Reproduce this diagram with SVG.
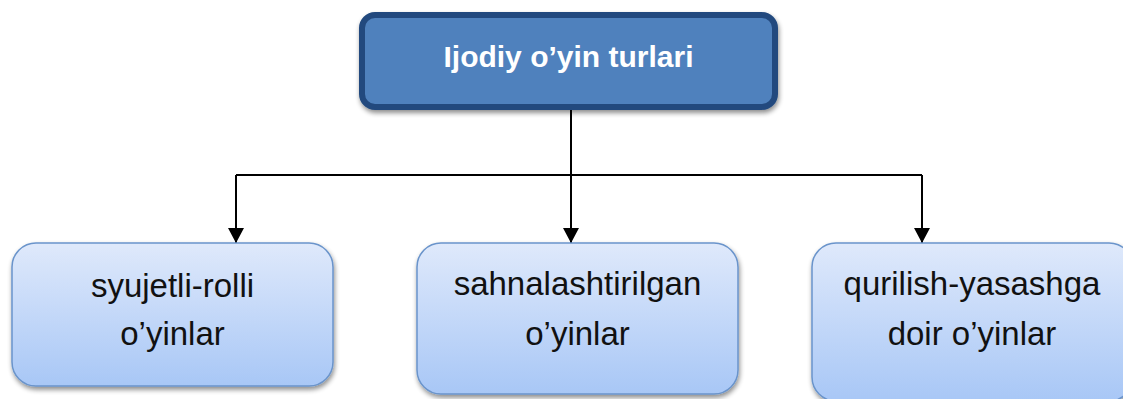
<svg xmlns="http://www.w3.org/2000/svg" width="1123" height="399" viewBox="0 0 1123 399">
<defs>
<linearGradient id="g" x1="0" y1="0" x2="0" y2="1">
<stop offset="0" stop-color="#DFE9FB"/>
<stop offset="1" stop-color="#A8C7F6"/>
</linearGradient>
<filter id="sh" x="-10%" y="-10%" width="120%" height="130%">
<feGaussianBlur in="SourceAlpha" stdDeviation="2.5"/>
<feOffset dx="1" dy="3" result="b"/>
<feComponentTransfer><feFuncA type="linear" slope="0.45"/></feComponentTransfer>
<feMerge><feMergeNode/><feMergeNode in="SourceGraphic"/></feMerge>
</filter>
<marker id="arr" markerWidth="16" markerHeight="16" refX="15" refY="8" orient="auto" markerUnits="userSpaceOnUse">
<path d="M0,0 L15,8 L0,16 Z" fill="#000"/>
</marker>
<style>
.top{fill:#4F81BD;stroke:#234A7E;stroke-width:6}
.box{fill:url(#g);stroke:#6A94CB;stroke-width:1.5}
.tt{font-family:"Liberation Sans",Arial,sans-serif;font-weight:bold;font-size:30px;fill:#fff;text-anchor:middle}
.bt{font-family:"Liberation Sans",Arial,sans-serif;font-size:33px;fill:#111;text-anchor:middle}
.ln{fill:none;stroke:#000;stroke-width:2}
</style>
</defs>
<rect width="1123" height="399" fill="#fff"/>
<g id="connectors">
<line class="ln" x1="571" y1="108" x2="571" y2="175"/>
<line class="ln" x1="236" y1="175" x2="922" y2="175"/>
<line class="ln" x1="236" y1="175" x2="236" y2="243" marker-end="url(#arr)"/>
<line class="ln" x1="571" y1="175" x2="571" y2="243" marker-end="url(#arr)"/>
<line class="ln" x1="922" y1="175" x2="922" y2="243" marker-end="url(#arr)"/>
</g>
<g id="root">
<rect class="top" x="362" y="15" width="413" height="92" rx="13" filter="url(#sh)"/>
<text class="tt" x="568.5" y="67">Ijodiy o’yin turlari</text>
</g>
<g id="n1">
<rect class="box" x="12" y="243" width="321" height="143" rx="24" filter="url(#sh)"/>
<text class="bt" x="172.5" y="297">syujetli-rolli</text>
<text class="bt" x="172.5" y="345">o’yinlar</text>
</g>
<g id="n2">
<rect class="box" x="417" y="243" width="321" height="151" rx="24" filter="url(#sh)"/>
<text class="bt" x="577.5" y="295">sahnalashtirilgan</text>
<text class="bt" x="577.5" y="345">o’yinlar</text>
</g>
<g id="n3">
<rect class="box" x="812" y="243" width="321" height="158" rx="24" filter="url(#sh)"/>
<text class="bt" x="972" y="295">qurilish-yasashga</text>
<text class="bt" x="972" y="345">doir o’yinlar</text>
</g>
</svg>
